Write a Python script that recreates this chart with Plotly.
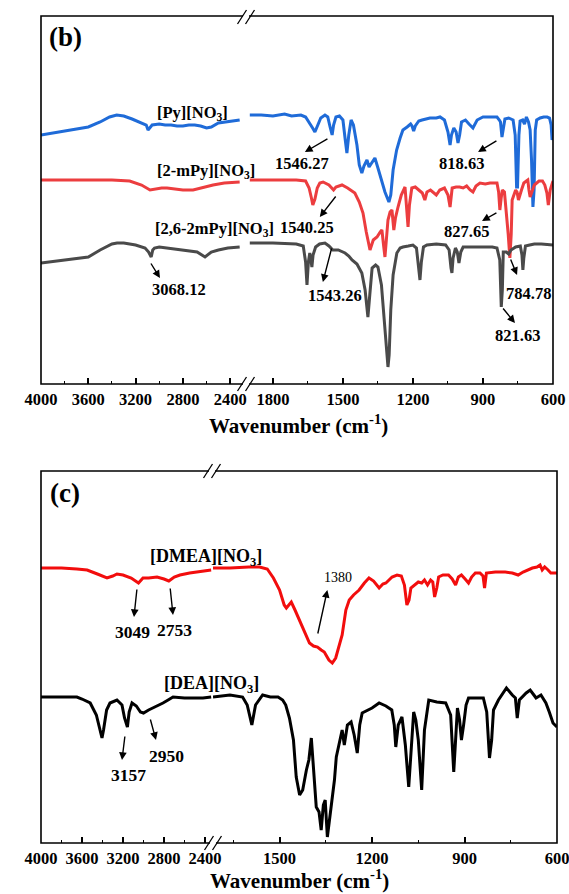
import plotly.graph_objects as go

# ---------------- spectra (wavenumber in cm-1, transmittance in a.u., offset) ----------------
# Panel (b): pyridinium nitrates
py_wn = [4000, 3850, 3700, 3600, 3500, 3420, 3360, 3300, 3230, 3150, 3110, 3095, 3080, 3060, 3000,
         2950, 2900, 2850, 2800, 2750, 2700, 2650, 2600, 2560, 2500, 2450, 2400, 2320,
         1899, 1850, 1800, 1750, 1720, 1680, 1660, 1645, 1630, 1620, 1610, 1595, 1577, 1565, 1555,
         1546.27, 1540, 1530, 1515, 1500, 1490, 1483, 1475, 1465, 1455, 1440, 1430, 1419, 1410,
         1397, 1388, 1375, 1363, 1350, 1335, 1320, 1303, 1295, 1285, 1270, 1255, 1243, 1225, 1210,
         1204, 1197, 1190, 1175, 1161, 1145, 1127, 1100, 1084, 1065, 1050, 1041, 1035, 1025, 1015,
         1007, 1000, 992, 975, 960, 943, 925, 900, 870, 840, 830, 825, 818.63, 812, 806, 790, 771,
         762, 756, 752, 746, 741, 730, 722, 714, 705, 698, 692, 686, 681, 676, 670, 655, 640, 625,
         615, 608, 604, 600]
py_t = [249, 252, 255, 257, 262, 267, 269, 268, 265, 261, 259, 254, 256, 259, 260,
        259, 259, 258, 258, 259, 259, 258, 256, 257, 261, 262, 263, 264,
        269, 269, 268, 270, 268, 269, 267, 262, 256, 252, 257, 266, 269, 267, 257,
        249, 259, 267, 268, 264, 244, 231, 249, 264, 259, 239, 219, 211, 218,
        224, 217, 222, 226, 216, 204, 192, 182, 189, 214, 234, 246, 254, 257, 260,
        258, 253, 258, 263, 264, 265, 266, 266, 267, 264, 252, 239, 249, 256, 252,
        241, 249, 262, 264, 260, 256, 264, 267, 267, 267, 264, 262, 247, 259, 265, 266, 264,
        249, 197, 197, 249, 263, 264, 260, 267, 262, 254, 224, 177, 194, 254, 264, 266, 267, 267,
        266, 259, 244, 254]

mpy_wn = [4000, 3800, 3600, 3400, 3250, 3150, 3078, 3020, 2980, 2934, 2880, 2800, 2714, 2650,
          2545, 2450, 2320,
          1899, 1800, 1700, 1660, 1645, 1635, 1629, 1620, 1610, 1599, 1585, 1560, 1540.25, 1530,
          1504, 1480, 1449, 1430, 1414, 1400, 1384, 1370, 1354, 1340, 1333, 1326, 1320, 1314,
          1307, 1298, 1290, 1282, 1275, 1264, 1250, 1234, 1226, 1221, 1215, 1205, 1190, 1175,
          1160, 1149, 1140, 1125, 1110, 1100, 1085, 1065, 1050, 1041, 1032, 1015, 1000, 985, 970,
          955, 943, 930, 913, 890, 870, 850, 840, 833, 827.65, 822, 817, 808, 800, 792, 784.78,
          779, 775, 768, 760, 754, 748, 735, 725, 714, 708, 703, 698, 680, 660, 645, 635, 626,
          620, 612, 600]
mpy_t = [204, 204, 204, 204, 203, 199, 194, 195, 196, 196, 195, 194, 194, 196,
         199, 201, 202,
         204, 204, 204, 203, 196, 186, 179, 185, 196, 201, 202, 199, 194, 197,
         199, 196, 191, 182, 171, 152, 134, 144, 147, 152, 154, 139, 127, 144,
         164, 172, 174, 154, 166, 177, 189, 197, 174, 157, 179, 196, 197, 194,
         191, 184, 192, 194, 191, 189, 194, 196, 189, 177, 196, 197, 197, 196, 198,
         194, 192, 198, 201, 200, 201, 201, 201, 192, 174, 186, 194, 192, 174, 150, 126,
         150, 184, 189, 194, 192, 184, 194, 201, 203, 204, 194, 187, 199, 203, 203, 199, 191,
         179, 194, 203, 204]

dmpy_wn = [4000, 3800, 3600, 3500, 3400, 3357, 3300, 3200, 3120, 3090, 3068.12, 3055, 3040,
           3000, 2934, 2850, 2760, 2680, 2613, 2560, 2500, 2420, 2320,
           1899, 1800, 1700, 1670, 1660, 1654, 1648, 1642, 1637, 1633, 1628, 1617, 1600, 1577,
           1560, 1543.26, 1520, 1491, 1475, 1461, 1440, 1419, 1405, 1393, 1385, 1375, 1360,
           1350, 1335, 1320, 1310, 1307, 1302, 1295, 1285, 1269, 1255, 1243, 1220, 1200, 1185,
           1176, 1170, 1164, 1155, 1140, 1100, 1060, 1045, 1037, 1033, 1028, 1018, 1010, 1003,
           995, 985, 960, 930, 900, 860, 840, 828, 821.63, 817, 813, 800, 790, 780, 760, 740,
           733, 729, 725, 718, 700, 680, 650, 620, 600]
dmpy_t = [121, 124, 127, 134, 140, 141, 141, 139, 136, 132, 127, 134, 136,
          137, 136, 134, 133, 132, 127, 132, 134, 136, 137,
          141, 141, 140, 138, 122, 99, 122, 131, 124, 117, 129, 137, 140, 141,
          138, 134, 134, 131, 128, 124, 120, 111, 94, 67, 89, 116, 119,
          117, 99, 54, 24, 17, 29, 74, 109, 131, 136, 137, 138, 139, 136,
          119, 104, 122, 137, 139, 140, 139, 134, 116, 111, 126, 136, 132, 121,
          132, 137, 137, 137, 137, 137, 136, 124, 77, 94, 132, 132, 130, 134, 137, 138,
          129, 114, 126, 138, 139, 140, 140, 139, 139]

# Panel (c): ethanolamine nitrates
dmea_wn = [4000, 3800, 3650, 3550, 3450, 3356, 3300, 3259, 3200, 3120, 3049, 3005, 2950, 2868,
           2800, 2753, 2700, 2644, 2550, 2420, 2340,
           1716, 1661, 1600, 1565, 1540, 1520, 1500, 1485, 1478, 1462, 1450, 1436, 1420, 1403,
           1390, 1377, 1365, 1355, 1340, 1329, 1318, 1305, 1297, 1285, 1274, 1260, 1242, 1225,
           1210, 1195, 1177, 1165, 1155, 1135, 1119, 1105, 1095, 1087, 1080, 1074, 1060, 1050,
           1039, 1030, 1020, 1010, 1003, 997, 990, 984, 970, 952, 940, 929, 920, 910, 898, 887,
           877, 865, 850, 840, 835, 829, 800, 768, 745, 726, 710, 694, 680, 665, 655, 648, 640,
           629, 620, 613, 600]
dmea_t = [275, 275, 274, 273, 269, 265, 267, 269, 268, 265, 260, 265, 265, 266,
          264, 262, 266, 268, 270, 272, 273,
          275, 275, 276, 276, 274, 265, 253, 238, 235, 241, 233, 223, 211, 200,
          197, 196, 193, 191, 183, 180, 185, 198, 208, 233, 243, 248, 253, 260,
          265, 262, 255, 259, 260, 266, 268, 267, 258, 238, 243, 255, 258, 261,
          260, 263, 258, 263, 261, 246, 255, 266, 268, 268, 264, 258, 266, 268, 264, 260,
          266, 270, 270, 267, 255, 270, 271, 271, 270, 268, 271, 273, 275, 276, 278, 273, 276,
          273, 270, 270, 270]

dea_wn = [4000, 3800, 3650, 3600, 3520, 3460, 3420, 3405, 3390, 3360, 3327, 3259, 3210, 3185,
          3157, 3140, 3112, 3070, 3030, 3000, 2950, 2907, 2860, 2810, 2760, 2712, 2600, 2500,
          2420, 2340,
          1716, 1661, 1620, 1605, 1590, 1578, 1555, 1530, 1505, 1490, 1480, 1468, 1455, 1446,
          1435, 1425, 1413, 1405, 1397, 1390, 1381, 1372, 1365, 1358, 1352, 1345, 1338, 1329,
          1322, 1316, 1305, 1297, 1290, 1280, 1268, 1258, 1248, 1240, 1232, 1215, 1200, 1177,
          1155, 1136, 1128, 1123, 1115, 1103, 1092, 1081, 1072, 1065, 1058, 1050, 1039, 1030,
          1016, 990, 961, 945, 935, 928, 923, 916, 910, 903, 895, 887, 860, 839, 828, 819, 812,
          806, 790, 764, 745, 735, 729, 722, 700, 687, 675, 668, 652, 636, 625, 613, 600]
dea_t = [146, 146, 146, 144, 140, 128, 110, 105, 113, 133, 140, 143, 138, 125,
         116, 131, 140, 137, 131, 130, 133, 135, 137, 140, 143, 146, 145, 145,
         145, 146,
         146, 148, 146, 138, 118, 138, 148, 146, 146, 143, 138, 125, 103, 66,
         48, 53, 73, 83, 105, 73, 36, 31, 13, 38, 43, 6, 23, 43,
         63, 86, 103, 113, 98, 118, 121, 108, 90, 118, 130, 133, 135, 140,
         137, 133, 118, 96, 118, 126, 98, 56, 103, 131, 123, 103, 53, 113,
         143, 141, 140, 128, 71, 108, 135, 123, 103, 118, 138, 145, 145, 145, 131, 85, 103,
         133, 143, 155, 148, 145, 125, 143, 150, 153, 148, 145, 148, 140, 131, 120, 116]

# Labelled bands (cm-1)
peaks_b_right = [1546.27, 818.63, 1540.25, 827.65, 1543.26, 784.78, 821.63]
peaks_b_left = [3068.12]
peaks_c_left = [3049, 2753, 3157, 2950]
peaks_c_right = [1380]

# ---------------- figure geometry ----------------
W, H = 569, 894
FONT = "Liberation Serif"
BREAK_WN = 2000  # split between high- and low-wavenumber axes


def fx(px):
    return px / W


def fy(py):
    return 1 - py / H


def split(wn, t):
    hi = [(w, v) for w, v in zip(wn, t) if w > BREAK_WN]
    lo = [(w, v) for w, v in zip(wn, t) if w <= BREAK_WN]
    return ([p[0] for p in hi], [p[1] for p in hi]), ([p[0] for p in lo], [p[1] for p in lo])


fig = go.Figure()

series = [
    (py_wn, py_t, "#1f6bd8", "x", "x2", "y", "[Py][NO3]"),
    (mpy_wn, mpy_t, "#ec3d3f", "x", "x2", "y", "[2-mPy][NO3]"),
    (dmpy_wn, dmpy_t, "#4a4a4a", "x", "x2", "y", "[2,6-2mPy][NO3]"),
    (dmea_wn, dmea_t, "#f20d0d", "x3", "x4", "y2", "[DMEA][NO3]"),
    (dea_wn, dea_t, "#000000", "x3", "x4", "y2", "[DEA][NO3]"),
]
for wn, t, col, xa_hi, xa_lo, ya, name in series:
    (wh, th), (wl, tl) = split(wn, t)
    for xs, ys, xa in ((wh, th, xa_hi), (wl, tl, xa_lo)):
        fig.add_trace(go.Scatter(x=xs, y=ys, mode="lines", xaxis=xa, yaxis=ya, name=name,
                                 line=dict(color=col, width=3), showlegend=False,
                                 hoverinfo="skip"))

tickfont = dict(family=FONT, size=16.5, color="black", weight="bold")


def xaxis_cfg(dom, rng, majors, minors):
    return dict(domain=dom, range=rng, tickmode="array", tickvals=majors,
                ticktext=[str(v) for v in majors], ticks="inside", ticklen=6, tickwidth=1.5,
                tickcolor="black", showline=False, showgrid=False, zeroline=False,
                tickfont=tickfont, ticklabelstandoff=3, ticklabeloverflow="allow",
                minor=dict(tickmode="array", tickvals=minors, ticks="inside", ticklen=3,
                           tickwidth=1.3, tickcolor="black", showgrid=False),
                fixedrange=True)


yaxis_cfg = dict(showticklabels=False, ticks="", showgrid=False, zeroline=False,
                 showline=False, fixedrange=True)

fig.update_layout(
    width=W, height=H, margin=dict(l=0, r=0, t=0, b=0, autoexpand=False),
    paper_bgcolor="white", plot_bgcolor="white", showlegend=False,
    font=dict(family=FONT, color="black"),
    xaxis=dict(**xaxis_cfg([fx(41), fx(247)], [4000, 2258],
                           [4000, 3600, 3200, 2800, 2400], [3800, 3400, 3000, 2600]), anchor="y"),
    xaxis2=dict(**xaxis_cfg([fx(247), fx(553)], [1911, 600],
                            [1800, 1500, 1200, 900, 600], [1650, 1350, 1050, 750]), anchor="y"),
    xaxis3=dict(**xaxis_cfg([fx(41), fx(213)], [4000, 2322],
                            [4000, 3600, 3200, 2800, 2400], [3800, 3400, 3000, 2600]), anchor="y2"),
    xaxis4=dict(**xaxis_cfg([fx(213), fx(557)], [1716, 600],
                            [1500, 1200, 900, 600], [1650, 1350, 1050, 750]), anchor="y2"),
    yaxis=dict(domain=[fy(384), fy(16)], range=[0, 368], anchor="x", **yaxis_cfg),
    yaxis2=dict(domain=[fy(843), fy(471)], range=[0, 372], anchor="x3", **yaxis_cfg),
)

# frames of both panels
shapes = []
for (l, r, t, b) in ((41, 553, 16, 384), (41, 557, 471, 843)):
    shapes.append(dict(type="rect", xref="paper", yref="paper", x0=fx(l), x1=fx(r),
                       y0=fy(b), y1=fy(t), line=dict(color="black", width=1.6),
                       fillcolor="rgba(0,0,0,0)", layer="above"))

# axis-break marks "//"
for cx, cy in ((246, 17), (246, 384), (212, 471), (213, 843)):
    shapes.append(dict(type="rect", xref="paper", yref="paper", x0=fx(cx - 3), x1=fx(cx + 3),
                       y0=fy(cy + 2), y1=fy(cy - 2), line=dict(width=0), fillcolor="white",
                       layer="above"))
    for dx in (-4, 4):
        shapes.append(dict(type="line", xref="paper", yref="paper",
                           x0=fx(cx + dx - 4.5), y0=fy(cy + 7), x1=fx(cx + dx + 4.5), y1=fy(cy - 7),
                           line=dict(color="black", width=1.3), layer="above"))
fig.update_layout(shapes=shapes)

ann = []


def text(x, y, s, xref, yref, size=16.5, bold=True):
    ann.append(dict(x=x, y=y, xref=xref, yref=yref, text=f"<b>{s}</b>" if bold else s,
                    showarrow=False, xanchor="center", yanchor="middle",
                    font=dict(family=FONT, size=size, color="black")))


def arrow(x_tail, y_tail, x_head, y_head, xref, yref):
    ann.append(dict(x=x_head, y=y_head, ax=x_tail, ay=y_tail, xref=xref, yref=yref,
                    axref=xref, ayref=yref, text="", showarrow=True, arrowhead=2,
                    arrowsize=1.1, arrowwidth=1.4, arrowcolor="black", standoff=0,
                    startstandoff=0, font=dict(size=10)))


# panel (b) captions
text(3797, 347, "(b)", "x", "y", size=27)
text(2715, 271, "[Py][NO<sub>3</sub>]", "x", "y", size=16.5)
text(2605, 213, "[2-mPy][NO<sub>3</sub>]", "x", "y", size=16.5)
text(2537, 155, "[2,6-2mPy][NO<sub>3</sub>]", "x", "y", size=16.5)

# panel (b) band labels: label pos, arrow tail, arrow head
b_right_pos = [((1676, 221), (1560, 246), (1663, 232)),
               ((990, 221), (836, 244), (921, 232)),
               ((1654, 157), (1526, 189), (1599, 167)),
               ((969, 153), (836, 172), (904, 163)),
               ((1534, 89), (1547, 137), (1586, 102)),
               ((707, 91), (784, 126), (754, 109)),
               ((750, 49), (819, 77), (763, 61))]
for val, (lp, tp, hp) in zip(peaks_b_right, b_right_pos):
    text(lp[0], lp[1], f"{val:.2f}", "x2", "y")
    arrow(tp[0], tp[1], hp[0], hp[1], "x2", "y")
b_left_pos = [((2833, 95), (3078, 122), (2994, 106))]
for val, (lp, tp, hp) in zip(peaks_b_left, b_left_pos):
    text(lp[0], lp[1], f"{val:.2f}", "x", "y")
    arrow(tp[0], tp[1], hp[0], hp[1], "x", "y")

# panel (c) captions
text(3766, 350, "(c)", "x3", "y2", size=27)
text(2390, 286, "[DMEA][NO<sub>3</sub>]", "x3", "y2", size=18)
text(2332, 159, "[DEA][NO<sub>3</sub>]", "x3", "y2", size=18)

c_left_pos = [((3112, 211), (3063, 255), (3093, 226)),
              ((2693, 213), (2741, 256), (2712, 228)),
              ((3151, 68), (3180, 108), (3210, 83)),
              ((2780, 87), (2937, 125), (2878, 103))]
for val, (lp, tp, hp) in zip(peaks_c_left, c_left_pos):
    text(lp[0], lp[1], f"{val}", "x3", "y2", size=17.5)
    arrow(tp[0], tp[1], hp[0], hp[1], "x3", "y2")
c_right_pos = [((1310, 266), (1377, 208), (1345, 253))]
for val, (lp, tp, hp) in zip(peaks_c_right, c_right_pos):
    text(lp[0], lp[1], f"{val}", "x4", "y2", size=14, bold=False)
    arrow(tp[0], tp[1], hp[0], hp[1], "x4", "y2")

# shared axis titles
for cx, cy in ((298, 424), (299, 879)):
    ann.append(dict(x=fx(cx), y=fy(cy), xref="paper", yref="paper",
                    text="<b>Wavenumber (cm<sup>-1</sup>)</b>", showarrow=False,
                    xanchor="center", yanchor="middle",
                    font=dict(family=FONT, size=21, color="black")))

fig.update_layout(annotations=ann)
fig.write_html("out.html")
